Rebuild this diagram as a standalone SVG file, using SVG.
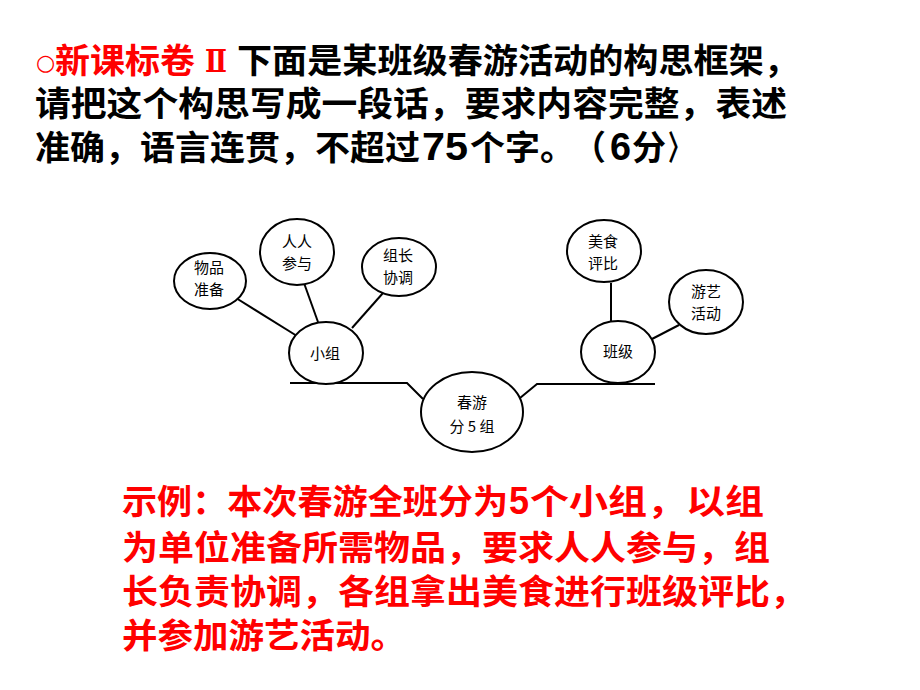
<svg xmlns="http://www.w3.org/2000/svg" width="920" height="690" viewBox="0 0 920 690">
<style>
.t{font-family:"Noto Sans CJK SC","Noto Sans CJK JP",sans-serif;font-size:34px;font-weight:bold}
.k{fill:#000}
.r{fill:#ff0000}
.d{font-family:"Liberation Sans","Noto Sans CJK SC",sans-serif;font-weight:bold}
.n{fill:#fff;stroke:#000;stroke-width:2}
.lab{font-family:"Noto Sans CJK SC",sans-serif;font-size:15px;fill:#000;text-anchor:middle}
.c{fill:none;stroke:#000;stroke-width:2}
</style>
<rect width="920" height="690" fill="#fff"/>
<g id="title">
<text x="36" y="70" font-family="DejaVu Sans,sans-serif" font-size="22" fill="#ff0000">○</text>
<text class="t r" x="55" y="73" textLength="140" lengthAdjust="spacingAndGlyphs">新课标卷</text>
<text x="205" y="72" font-family="DejaVu Serif,serif" font-weight="bold" font-size="32" fill="#ff0000" textLength="22" lengthAdjust="spacingAndGlyphs">Ⅱ</text>
<text class="t k" x="237" y="73" textLength="562" lengthAdjust="spacingAndGlyphs">下面是某班级春游活动的构思框架，</text>
<text class="t k" x="35" y="116" textLength="752" lengthAdjust="spacingAndGlyphs">请把这个构思写成一段话，要求内容完整，表述</text>
<text class="t k" x="35" y="160" textLength="385" lengthAdjust="spacingAndGlyphs">准确，语言连贯，不超过</text>
<text class="d k" x="422" y="160" font-size="39" textLength="46" lengthAdjust="spacingAndGlyphs">75</text>
<text class="t k" x="470" y="160" textLength="105" lengthAdjust="spacingAndGlyphs">个字。</text>
<text class="t k" x="572" y="160" textLength="34" lengthAdjust="spacingAndGlyphs">（</text>
<text class="d k" x="610" y="160" font-size="39" textLength="21" lengthAdjust="spacingAndGlyphs">6</text>
<text class="t k" x="632" y="160" textLength="34" lengthAdjust="spacingAndGlyphs">分</text>
<text class="t k" x="668" y="160" textLength="22" lengthAdjust="spacingAndGlyphs">〉</text>
</g>
<g id="connectors">
<polyline class="c" points="290,383 407,383 423,399"/>
<polyline class="c" points="655,384 537,384 520,398"/>
<line class="c" x1="236" y1="298" x2="297" y2="336"/>
<line class="c" x1="304" y1="283" x2="318" y2="322"/>
<line class="c" x1="383" y1="293" x2="352" y2="328"/>
<line class="c" x1="611" y1="283" x2="611" y2="321"/>
<line class="c" x1="679" y1="325" x2="652" y2="339"/>
</g>
<g id="wupin"><ellipse class="n" cx="210" cy="281" rx="36" ry="28"/><text class="lab" x="209" y="273">物品</text><text class="lab" x="209" y="295">准备</text></g>
<g id="renren"><ellipse class="n" cx="297" cy="252" rx="37" ry="33"/><text class="lab" x="297" y="247">人人</text><text class="lab" x="297" y="269">参与</text></g>
<g id="zuzhang"><ellipse class="n" cx="399" cy="267" rx="37" ry="29"/><text class="lab" x="398" y="261">组长</text><text class="lab" x="398" y="283">协调</text></g>
<g id="xiaozu"><ellipse class="n" cx="326" cy="353" rx="37" ry="31"/><text class="lab" x="325" y="359">小组</text></g>
<g id="chunyou"><ellipse class="n" cx="472" cy="412" rx="51" ry="40"/><text class="lab" x="472" y="408">春游</text><text class="lab" x="472" y="432">分 5 组</text></g>
<g id="meishi"><ellipse class="n" cx="604" cy="251" rx="37" ry="31"/><text class="lab" x="603" y="247">美食</text><text class="lab" x="603" y="269">评比</text></g>
<g id="youyi"><ellipse class="n" cx="706" cy="302" rx="37" ry="32"/><text class="lab" x="706" y="297">游艺</text><text class="lab" x="706" y="319">活动</text></g>
<g id="banji"><ellipse class="n" cx="618" cy="352" rx="37" ry="31"/><text class="lab" x="618" y="357">班级</text></g>
<g id="answer">
<text class="t r" x="122" y="514" textLength="386" lengthAdjust="spacingAndGlyphs">示例：本次春游全班分为</text>
<text class="d r" x="509" y="514" font-size="39" textLength="20" lengthAdjust="spacingAndGlyphs">5</text>
<text class="t r" x="530" y="514" textLength="234" lengthAdjust="spacingAndGlyphs">个小组，以组</text>
<text class="t r" x="122" y="560" textLength="648" lengthAdjust="spacingAndGlyphs">为单位准备所需物品，要求人人参与，组</text>
<text class="t r" x="122" y="604" textLength="684" lengthAdjust="spacingAndGlyphs">长负责协调，各组拿出美食进行班级评比，</text>
<text class="t r" x="122" y="648" textLength="284" lengthAdjust="spacingAndGlyphs">并参加游艺活动。</text>
</g>
</svg>
